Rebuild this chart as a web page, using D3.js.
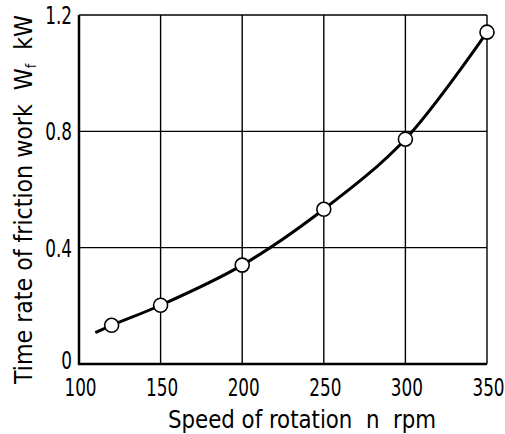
<!DOCTYPE html>
<html><head><meta charset="utf-8">
<script src="https://cdn.jsdelivr.net/npm/d3@7"></script>
<style>body{margin:0;background:#fff}svg{display:block}text{font-family:"DejaVu Sans Condensed","DejaVu Sans",sans-serif;fill:#000}</style>
</head><body>
<script>
const speedTicks = [100, 150, 200, 250, 300, 350];
const powerTicks = [0, 0.4, 0.8, 1.2];
const powerTickLabels = ["0", "0.4", "0.8", "1.2"];
const pointSpeed = [120, 150, 200, 250, 300, 350];
const pointPower = [0.133, 0.202, 0.340, 0.532, 0.773, 1.141];
const curveSpeed = [110, 120, 150, 200, 250, 300, 350];
const curvePower = [0.108, 0.133, 0.202, 0.340, 0.532, 0.773, 1.141];

const W = 505, H = 434;
const m = {l: 79, r: 18, t: 15, b: 70};
const svg = d3.select("body").append("svg").attr("width", W).attr("height", H);
const x = d3.scaleLinear().domain([100, 350]).range([m.l, W - m.r]);
const y = d3.scaleLinear().domain([0, 1.2]).range([H - m.b, m.t]);

const g = svg.append("g");
// grid
g.selectAll(".vg").data(speedTicks.slice(1)).join("line")
  .attr("x1", d => x(d)).attr("x2", d => x(d)).attr("y1", y(0)).attr("y2", y(1.2))
  .attr("stroke", "#000").attr("stroke-width", 1.4);
g.selectAll(".hg").data(powerTicks.slice(1)).join("line")
  .attr("x1", x(100)).attr("x2", x(350)).attr("y1", d => y(d)).attr("y2", d => y(d))
  .attr("stroke", "#000").attr("stroke-width", 1.4);
// axes
g.append("line").attr("x1", x(100)).attr("x2", x(100)).attr("y1", y(0)+1).attr("y2", y(1.2))
  .attr("stroke", "#000").attr("stroke-width", 2.5);
g.append("line").attr("x1", x(100)-1).attr("x2", x(350)).attr("y1", y(0)).attr("y2", y(0))
  .attr("stroke", "#000").attr("stroke-width", 2.5);

const SX = 0.78;
// tick labels
const xa = svg.append("g").attr("transform", `translate(1,${y(0)})`)
  .call(d3.axisBottom(x).tickValues(speedTicks).tickSize(0).tickPadding(15).tickFormat(d3.format("d")));
xa.select(".domain").remove();
xa.selectAll("text").attr("font-size", 24).attr("font-family", null).attr("transform", `scale(${SX},1)`);
const ya = svg.append("g").attr("transform", `translate(${x(100)},0)`)
  .call(d3.axisLeft(y).tickValues(powerTicks).tickSize(0).tickPadding(9).tickFormat((d, i) => powerTickLabels[i]));
ya.select(".domain").remove();
ya.selectAll("text").attr("font-size", 24).attr("font-family", null)
  .attr("dy", d => d === 0 ? "0.18em" : "0.36em")
  .attr("transform", `scale(${SX},1)`);

// curve
const line = d3.line().x((d, i) => x(curveSpeed[i])).y((d, i) => y(curvePower[i])).curve(d3.curveCatmullRom);
svg.append("path").datum(curveSpeed).attr("d", line).attr("fill", "none")
  .attr("stroke", "#000").attr("stroke-width", 3);
svg.selectAll(".pt").data(pointSpeed).join("circle")
  .attr("cx", d => x(d)).attr("cy", (d, i) => y(pointPower[i])).attr("r", 7)
  .attr("fill", "#fff").attr("stroke", "#000").attr("stroke-width", 1.6);

// titles
svg.append("text").attr("x", 168).attr("y", 428).attr("font-size", 24)
  .attr("textLength", 268).attr("lengthAdjust", "spacingAndGlyphs")
  .attr("xml:space", "preserve").text("Speed of rotation  n  rpm");
const yt = svg.append("text").attr("transform", "translate(32,384) rotate(-90)")
  .attr("font-size", 24).attr("xml:space", "preserve")
  .attr("textLength", 369).attr("lengthAdjust", "spacingAndGlyphs");
yt.append("tspan").text("Time rate of friction work  W");
yt.append("tspan").attr("font-size", 14).attr("dy", 4).text("f");
yt.append("tspan").attr("dy", -4).text("  kW");
</script>
</body></html>
